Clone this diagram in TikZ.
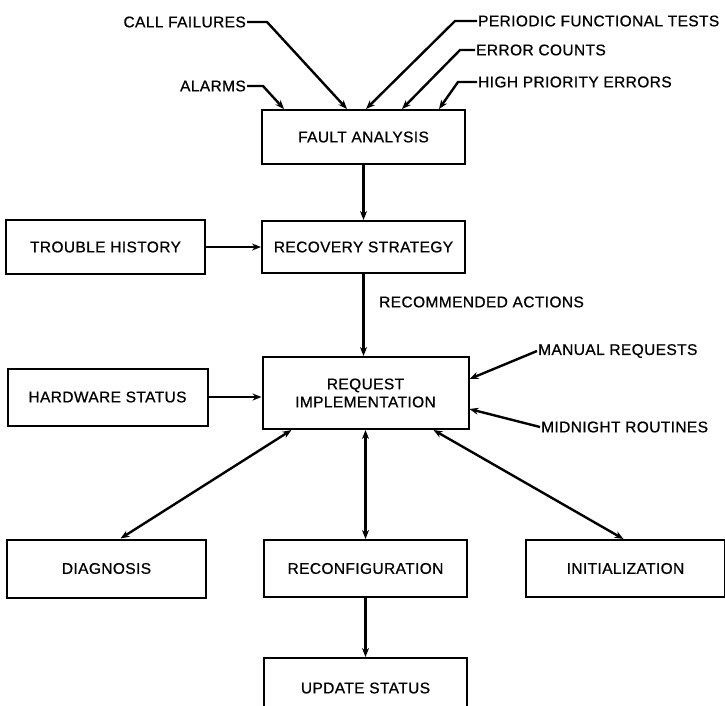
\documentclass[tikz,border=0pt]{standalone}
\usepackage{fontspec}
\setmainfont{Liberation Sans}
\newfontfamily\diagfont{Liberation Sans}[FakeBold=0.7, LetterSpace=2.5]
\usetikzlibrary{positioning, arrows.meta}

\begin{document}
\begin{tikzpicture}[
        x=1pt, y=1pt,
        font=\diagfont\fontsize{15.5}{18}\selectfont,
        box/.style={draw, line width=2pt, align=center, inner sep=2pt, minimum width=203pt, minimum height=54pt},
        lbl/.style={inner sep=1pt},
        arr/.style={-{Stealth[length=9pt, width=7pt]}, line width=2.4pt},
        both/.style={{Stealth[length=9pt, width=7pt]}-{Stealth[length=9pt, width=7pt]}, line width=2.4pt}
    ]
    \useasboundingbox (0,0) rectangle (725,-705);
    % Analysis chain
    \node[box] (fault) at (363.5,-137) {FAULT ANALYSIS};
    \node[box, below=55pt of fault, minimum height=52pt] (recov) {RECOVERY STRATEGY};
    \node[box, left=55pt of recov, minimum width=199pt] (trouble) {TROUBLE HISTORY};
    \node[box, below=82pt of recov, xshift=2pt, minimum width=206pt, minimum height=72pt] (request) {REQUEST\\IMPLEMENTATION};
    \node[box, left=53pt of request, yshift=-4pt, minimum width=200pt, minimum height=57pt] (hardware) {HARDWARE STATUS};
    % Actions
    \node[box, below=109pt of request, minimum height=57pt] (reconf) {RECONFIGURATION};
    \node[box, left=56pt of reconf, minimum width=199pt, minimum height=58pt] (diag) {DIAGNOSIS};
    \node[box, right=57pt of reconf, minimum width=199pt, minimum height=57pt] (init) {INITIALIZATION};
    \node[box, below=59pt of reconf, minimum height=60pt] (update) {UPDATE STATUS};

    % Inputs
    \node[lbl, anchor=east] (callf) at (247,-22) {CALL FAILURES};
    \node[lbl, anchor=east] (alarms) at (247,-86) {ALARMS};
    \node[lbl, anchor=west] (periodic) at (477,-21) {PERIODIC FUNCTIONAL TESTS};
    \node[lbl, anchor=west] (errcnt) at (475,-50) {ERROR COUNTS};
    \node[lbl, anchor=west] (highpri) at (477,-82) {HIGH PRIORITY ERRORS};
    \node[lbl, anchor=west] (recact) at (378,-302) {RECOMMENDED ACTIONS};
    \node[lbl, anchor=west] (manual) at (537,-351) {MANUAL REQUESTS};
    \node[lbl, anchor=west] (midnight) at (540,-427) {MIDNIGHT ROUTINES};

    \draw[arr] (callf.east) -- ++(20,0) -- ([xshift=86pt]fault.north west);
    \draw[arr] (alarms.east) -- ++(16,0) -- ([xshift=23pt]fault.north west);
    \draw[arr] (periodic.west) -- ++(-22,0) -- ([xshift=105pt]fault.north west);
    \draw[arr] (errcnt.west) -- ++(-15,0) -- ([xshift=141pt]fault.north west);
    \draw[arr] (highpri.west) -- ++(-19,0) -- ([xshift=178pt]fault.north west);

    \draw[arr] (fault) -- (recov);
    \draw[arr] (trouble) -- (recov);
    \draw[arr] (recov.south) -- (recov.south |- request.north);
    \draw[arr] (hardware) -- (hardware -| request.west);
    \draw[arr] (manual.west) -- ([yshift=14pt]request.east);
    \draw[arr] (midnight.west) -- ([yshift=-16pt]request.east);

    \draw[both] ([xshift=30pt]request.south west) -- ([xshift=14pt]diag.north);
    \draw[both] (request.south -| reconf.north) -- (reconf.north);
    \draw[both] ([xshift=-36pt]request.south east) -- ([xshift=-2pt]init.north);
    \draw[arr] (reconf) -- (update);
\end{tikzpicture}
\end{document}
